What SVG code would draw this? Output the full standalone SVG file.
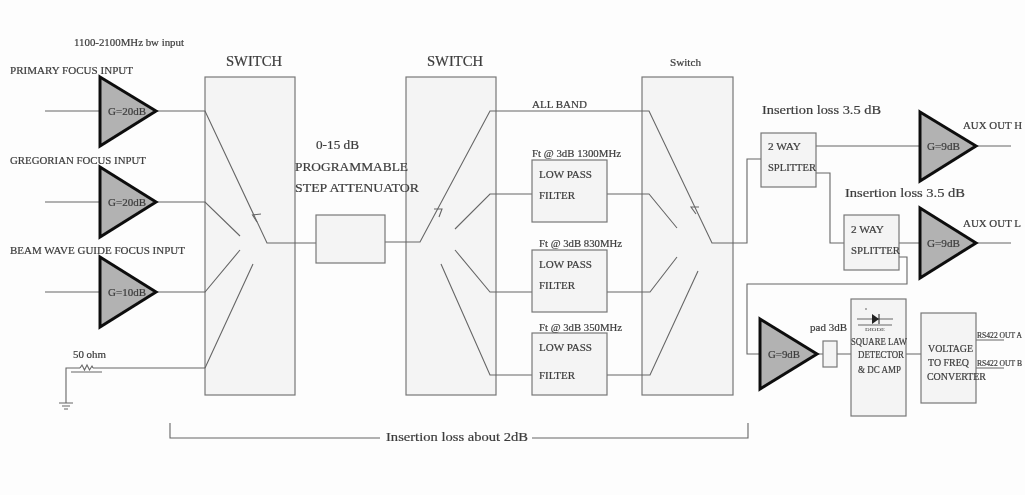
<svg xmlns="http://www.w3.org/2000/svg" width="1025" height="495" viewBox="0 0 1025 495">
<style>
text{font-family:"Liberation Serif","Times New Roman",serif;fill:#3c3c3c;font-size:10.5px;stroke:#3c3c3c;stroke-width:0.2}
.lg{font-size:13px}
.xl{font-size:14.5px}
.box{fill:#f4f4f4;stroke:#777;stroke-width:1.2}
.amp{fill:#b2b2b2;stroke:#111;stroke-width:3;stroke-linejoin:miter}
.w{fill:none;stroke:#666;stroke-width:1.1}
.rs{font-size:7.600px}
</style>
<defs><filter id="soft" x="0" y="0" width="100%" height="100%"><feGaussianBlur stdDeviation="0.45"/></filter></defs>
<rect width="1025" height="495" fill="#fdfdfd"/>
<g filter="url(#soft)">
<g id="switch-1"><rect class="box" x="205" y="77" width="90" height="318"/><text class="xl" x="226" y="66" textLength="56" lengthAdjust="spacingAndGlyphs">SWITCH</text></g>
<g id="switch-2"><rect class="box" x="406" y="77" width="90" height="318"/><text class="xl" x="427" y="66" textLength="56" lengthAdjust="spacingAndGlyphs">SWITCH</text></g>
<g id="switch-3"><rect class="box" x="642" y="77" width="91" height="318"/><text x="670" y="66" textLength="31" lengthAdjust="spacingAndGlyphs">Switch</text></g>

<g id="connectors">
<path class="w" d="M45 111H100M156 111H205L267 243H316M45 202H100M156 202H205L240 236M45 292H100M156 292H205L240 250"/>
<path class="w" d="M205 368H93M80 368H66V403M205 368L253 264"/>
<path class="w" d="M385 242H420L490 111H649L712 243H747V159H761"/>
<path class="w" d="M532 194H490L455 229M607 194H649L677 228M532 292H490L455 250M607 292H650L677 257M532 375H490L441 264M607 375H650L698 271"/>
<path class="w" d="M261 214L252.500 215L257 222M434 209H442L439 217M699 207H691L696 214"/>
<path class="w" d="M816 146H920M976 146H1011M816 173H830V243H844M899 243H920M976 243H1011M899 257H907V284H747V354H760M817 354H823M837 354H851M906 354H921"/>
<path class="w" d="M170 423V438H380M532 438H748V423"/>
<path class="w" stroke-width="0.8" d="M976 340H1004M976 368H1004"/>
</g>

<g id="amp-primary"><polygon class="amp" points="100,77 156,111 100,146"/><text x="108" y="115" textLength="38" lengthAdjust="spacingAndGlyphs">G=20dB</text></g>
<g id="amp-gregorian"><polygon class="amp" points="100,167 156,202 100,237"/><text x="108" y="206" textLength="38" lengthAdjust="spacingAndGlyphs">G=20dB</text></g>
<g id="amp-beam"><polygon class="amp" points="100,257 156,292 100,327"/><text x="108" y="296" textLength="38" lengthAdjust="spacingAndGlyphs">G=10dB</text></g>
<g id="amp-aux-h"><polygon class="amp" points="920,112 976,146 920,181"/><text x="927" y="150" textLength="33" lengthAdjust="spacingAndGlyphs">G=9dB</text></g>
<g id="amp-aux-l"><polygon class="amp" points="920,208 976,243 920,278"/><text x="927" y="247" textLength="33" lengthAdjust="spacingAndGlyphs">G=9dB</text></g>
<g id="amp-detector"><polygon class="amp" points="760,319 817,354 760,389"/><text x="768" y="358" textLength="32" lengthAdjust="spacingAndGlyphs">G=9dB</text></g>

<g id="labels">
<text x="74" y="46" textLength="110" lengthAdjust="spacingAndGlyphs">1100-2100MHz bw input</text>
<text x="10" y="74" textLength="123" lengthAdjust="spacingAndGlyphs">PRIMARY FOCUS INPUT</text>
<text x="10" y="164" textLength="136" lengthAdjust="spacingAndGlyphs">GREGORIAN FOCUS INPUT</text>
<text x="10" y="254" textLength="175" lengthAdjust="spacingAndGlyphs">BEAM WAVE GUIDE FOCUS INPUT</text>
<text class="lg" x="386" y="441" textLength="142" lengthAdjust="spacingAndGlyphs">Insertion loss about 2dB</text>
<text class="lg" x="762" y="114" textLength="119" lengthAdjust="spacingAndGlyphs">Insertion loss 3.5 dB</text>
<text class="lg" x="845" y="197" textLength="120" lengthAdjust="spacingAndGlyphs">Insertion loss 3.5 dB</text>
<text x="963" y="129" style="font-size:9.500px" textLength="59" lengthAdjust="spacingAndGlyphs">AUX OUT H</text>
<text x="963" y="227" style="font-size:9.500px" textLength="58" lengthAdjust="spacingAndGlyphs">AUX OUT L</text>
<text x="532" y="108" textLength="55" lengthAdjust="spacingAndGlyphs">ALL BAND</text>
</g>

<g id="terminator">
<text x="73" y="358" textLength="33" lengthAdjust="spacingAndGlyphs">50 ohm</text>
<path class="w" d="M80 368l2-3 2.500 5 2.500-5 2.500 5 2.500-4 1 2"/>
<path class="w" stroke-width="0.7" d="M71 372H102M59 403H73M62 406H70M64 409H68"/>
</g>

<g id="attenuator"><rect class="box" x="316" y="215" width="69" height="48"/>
<text class="lg" x="316" y="149" textLength="43" lengthAdjust="spacingAndGlyphs">0-15 dB</text>
<text class="lg" x="295" y="171" textLength="113" lengthAdjust="spacingAndGlyphs">PROGRAMMABLE</text>
<text class="lg" x="295" y="192" textLength="124" lengthAdjust="spacingAndGlyphs">STEP ATTENUATOR</text></g>

<g id="filter-1300"><rect class="box" x="532" y="160" width="75" height="62"/>
<text x="532" y="157" textLength="89" lengthAdjust="spacingAndGlyphs">Ft @ 3dB 1300MHz</text>
<text x="539" y="178" textLength="53" lengthAdjust="spacingAndGlyphs">LOW PASS</text>
<text x="539" y="199" textLength="36" lengthAdjust="spacingAndGlyphs">FILTER</text></g>
<g id="filter-830"><rect class="box" x="532" y="250" width="75" height="62"/>
<text x="539" y="247" textLength="83" lengthAdjust="spacingAndGlyphs">Ft @ 3dB 830MHz</text>
<text x="539" y="268" textLength="53" lengthAdjust="spacingAndGlyphs">LOW PASS</text>
<text x="539" y="289" textLength="36" lengthAdjust="spacingAndGlyphs">FILTER</text></g>
<g id="filter-350"><rect class="box" x="532" y="333" width="75" height="62"/>
<text x="539" y="331" textLength="83" lengthAdjust="spacingAndGlyphs">Ft @ 3dB 350MHz</text>
<text x="539" y="351" textLength="53" lengthAdjust="spacingAndGlyphs">LOW PASS</text>
<text x="539" y="379" textLength="36" lengthAdjust="spacingAndGlyphs">FILTER</text></g>

<g id="splitter-1"><rect class="box" x="761" y="133" width="55" height="54"/>
<text x="768" y="150" textLength="33" lengthAdjust="spacingAndGlyphs">2 WAY</text>
<text x="768" y="171" textLength="48" lengthAdjust="spacingAndGlyphs">SPLITTER</text></g>
<g id="splitter-2"><rect class="box" x="844" y="215" width="55" height="55"/>
<text x="851" y="233" textLength="33" lengthAdjust="spacingAndGlyphs">2 WAY</text>
<text x="851" y="254" textLength="49" lengthAdjust="spacingAndGlyphs">SPLITTER</text></g>

<g id="pad"><rect class="box" x="823" y="341" width="14" height="26"/>
<text x="810" y="331" textLength="37" lengthAdjust="spacingAndGlyphs">pad 3dB</text></g>

<g id="detector"><rect class="box" x="851" y="299" width="55" height="117"/>
<path class="w" stroke-width="0.7" d="M857 319H893M858 325H892M865 309H867"/>
<polygon points="872,314 879,319 872,324" fill="#222"/><path d="M879 314V324" stroke="#222" fill="none"/>
<text x="865" y="331" style="font-size:5px;stroke-width:0" textLength="20" lengthAdjust="spacingAndGlyphs">DIODE</text>
<text x="851" y="345" textLength="56" lengthAdjust="spacingAndGlyphs">SQUARE LAW</text>
<text x="858" y="358" textLength="46" lengthAdjust="spacingAndGlyphs">DETECTOR</text>
<text x="858" y="373" textLength="43" lengthAdjust="spacingAndGlyphs">&amp; DC AMP</text></g>

<g id="converter"><rect class="box" x="921" y="313" width="55" height="90"/>
<text x="928" y="352" textLength="45" lengthAdjust="spacingAndGlyphs">VOLTAGE</text>
<text x="928" y="366" textLength="41" lengthAdjust="spacingAndGlyphs">TO FREQ</text>
<text x="927" y="380" textLength="59" lengthAdjust="spacingAndGlyphs">CONVERTER</text>
<text class="rs" x="977" y="338">RS422 OUT A</text>
<text class="rs" x="977" y="366">RS422 OUT B</text></g>
</g>
</svg>
